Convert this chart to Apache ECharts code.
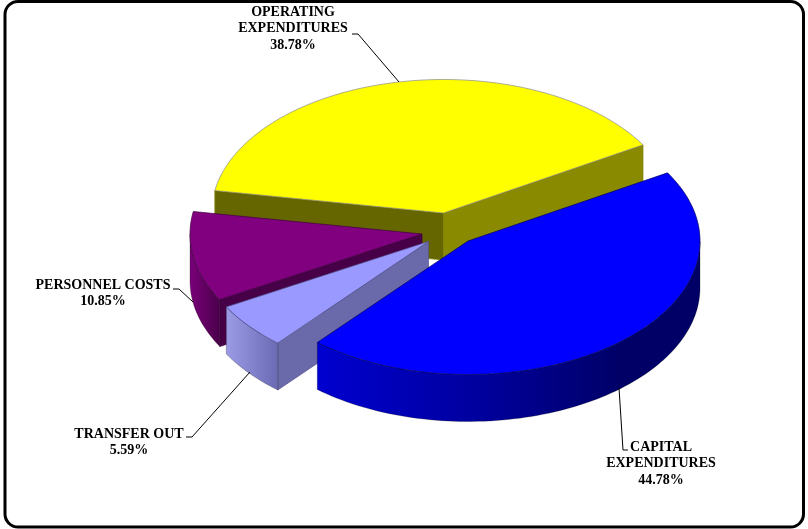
<!DOCTYPE html>
<html>
<head>
<meta charset="utf-8">
<style>html,body{margin:0;padding:0;background:#fff}#c{width:808px;height:529px}</style>
<script src="https://cdn.jsdelivr.net/npm/echarts@6/dist/echarts.min.js"></script>
</head>
<body>
<div id="c"></div>
<script>
// ---- data (clockwise from the left of the pie) ----
const categories = ['OPERATING EXPENDITURES', 'CAPITAL EXPENDITURES', 'TRANSFER OUT', 'PERSONNEL COSTS'];
const values = [38.78, 44.78, 5.59, 10.85];
const labelLines = [['OPERATING', 'EXPENDITURES'], ['CAPITAL', 'EXPENDITURES'], ['TRANSFER OUT'], ['PERSONNEL COSTS']];

// ---- layout and styling ----
const RX = 232, RY = 133.5, DEPTH = 47, START_DEG = 170.3;
const sliceCentre = [[443.5, 213], [468, 241], [428.5, 241.5], [422, 234]];
const layer = [0, 3, 2, 1];
const labelPos = [[293, 12], [661, 447], [129, 434], [103, 285]];
const leaders = [
  [[352, 34], [358, 34], [399, 82]],
  [[619, 388], [623, 450], [628, 450]],
  [[186, 437], [192, 437], [250, 372]],
  [[173, 289], [179, 289], [193, 302]]
];
const topColor = ['#ffff00', '#0000ff', '#9999ff', '#800080'];
const topEdge = ['#8c8c8c', '#000060', '#55558c', '#400040'];
const edgeColor = ['#808000', '#000080', '#55558c', '#400040'];
const startFace = ['#666600', '#000080', '#6a6aaa', '#470047'];
const endFace = ['#8a8a00', '#000080', '#6a6aaa', '#470047'];
const wallStops = [
  [[0, '#666600'], [1, '#666600']],
  [[0, '#0000d0'], [0.45, '#00009a'], [0.8, '#000066'], [1, '#000066']],
  [[0, '#9c9ce6'], [1, '#6a6ab4']],
  [[0, '#7a007a'], [1, '#4a004a']]
];
const FONT = 'bold 14px "Liberation Serif", serif';

const total = values.reduce((a, b) => a + b, 0);
const rad = d => d * Math.PI / 180;

function renderItem(params, api) {
  const i = params.dataIndex;
  let before = 0;
  for (let k = 0; k < i; k++) before += values[k];
  const a0 = START_DEG - before / total * 360;
  const a1 = a0 - api.value(0) / total * 360;
  const [cx, cy] = sliceCentre[i];
  const pt = deg => [cx + RX * Math.cos(rad(deg)), cy - RY * Math.sin(rad(deg))];
  const arc = (from, to) => {
    const n = Math.max(2, Math.ceil(Math.abs(from - to) / 1.5));
    const out = [];
    for (let k = 0; k <= n; k++) out.push(pt(from + (to - from) * k / n));
    return out;
  };
  const children = [];
  const z = layer[i] * 10;
  const poly = (points, fill, stroke, z2) => children.push({
    type: 'polygon', shape: { points }, z2: z + z2,
    style: { fill, stroke, lineWidth: 0.7, lineJoin: 'round' }
  });
  const face = (deg, fill) => {
    const p = pt(deg);
    poly([[cx, cy], p, [p[0], p[1] + DEPTH], [cx, cy + DEPTH]], fill, edgeColor[i], 1);
  };
  // cut faces that turn toward the viewer
  if (Math.sin(rad(a0 + 90)) < 0) face(a0, startFace[i]);
  if (Math.sin(rad(a1 - 90)) < 0) face(a1, endFace[i]);
  // outer wall: only the part of the rim on the near side
  const wallFrom = Math.min(a0, 0), wallTo = Math.max(a1, -180);
  if (wallFrom > wallTo) {
    const rim = arc(wallFrom, wallTo);
    const low = rim.slice().reverse().map(p => [p[0], p[1] + DEPTH]);
    const stops = wallStops[i].map(s => ({ offset: s[0], color: s[1] }));
    poly(rim.concat(low), { type: 'linear', x: 0, y: 0, x2: 1, y2: 0, colorStops: stops }, 'rgba(0,0,0,0.35)', 2);
  }
  // top face
  poly([[cx, cy]].concat(arc(a0, a1)), topColor[i], topEdge[i], 3);
  // leader and label
  children.push({
    type: 'polyline', shape: { points: leaders[i] }, z2: 60,
    style: { fill: null, stroke: '#000', lineWidth: 1 }
  });
  const text = labelLines[i].concat([api.value(0).toFixed(2) + '%']).join('\n');
  children.push({
    type: 'text', x: labelPos[i][0], y: labelPos[i][1] - 8, z2: 61,
    style: { text, font: FONT, fill: '#000', align: 'center', verticalAlign: 'top', lineHeight: 16.5 }
  });
  return { type: 'group', children };
}

const chart = echarts.init(document.getElementById('c'), null, { renderer: 'canvas' });
chart.setOption({
  animation: false,
  backgroundColor: '#fff',
  graphic: [{
    type: 'rect', left: 3.5, top: 0, z: -1, silent: true,
    shape: { x: 1.5, y: 1.5, width: 798.5, height: 525.5, r: 13 },
    style: { fill: '#fff', stroke: '#000', lineWidth: 3 }
  }],
  series: [{
    type: 'custom',
    coordinateSystem: 'none',
    renderItem,
    data: categories.map((name, i) => ({ name, value: [values[i]] }))
  }]
});
</script>
</body>
</html>
